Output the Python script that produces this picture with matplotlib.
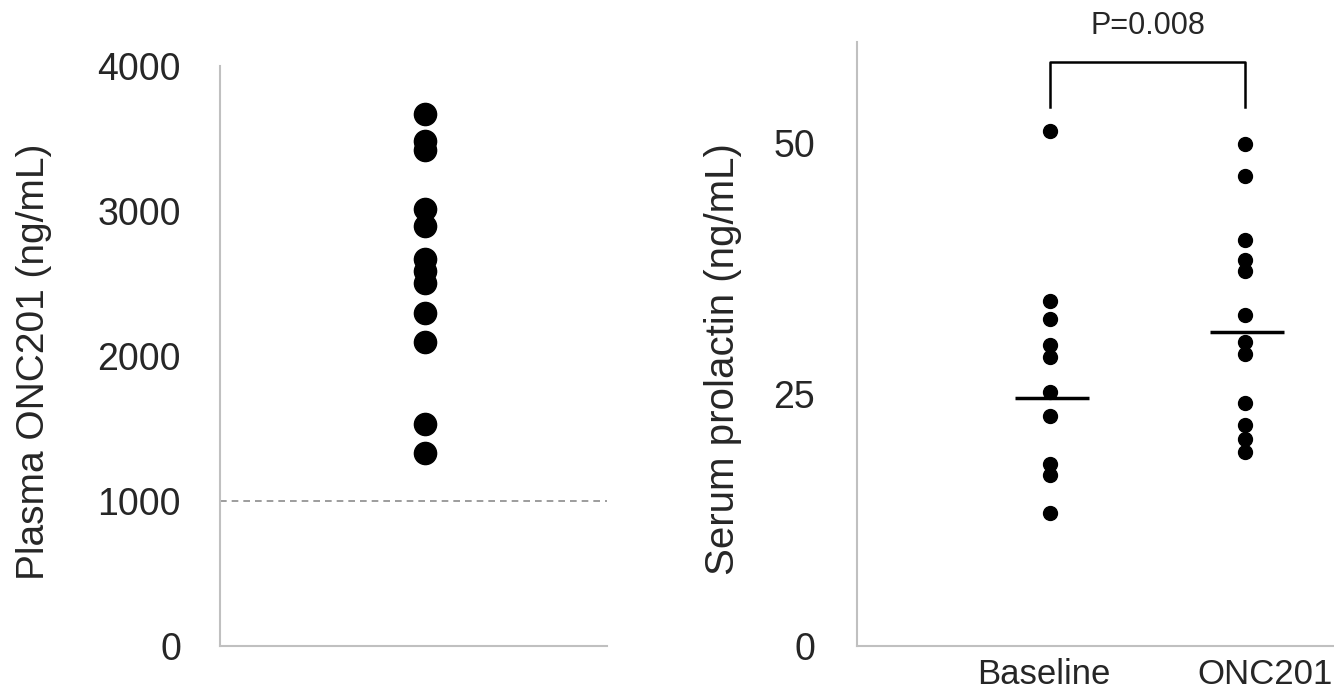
import matplotlib
matplotlib.use("Agg")
import matplotlib.pyplot as plt
import numpy as np

plt.rcParams['font.family'] = ['Liberation Sans', 'DejaVu Sans']

# ---- data ----
plasma_onc201 = [3670, 3485, 3420, 3015, 2900, 2670, 2585, 2505, 2300, 2095, 1530, 1330]
plasma_threshold = 1000

groups = ["Baseline", "ONC201"]
baseline_prolactin = [51.2, 34.3, 32.5, 29.9, 28.7, 25.2, 22.8, 18.1, 17.0, 13.2]
onc201_prolactin = [49.9, 46.7, 40.3, 38.3, 37.3, 32.9, 30.2, 29.0, 24.1, 22.0, 20.6, 19.3]
group_medians = [24.6, 31.2]
p_text = "P=0.008"

left_yticks = [0, 1000, 2000, 3000, 4000]
right_yticks = [0, 25, 50]

W, H = 1334, 691
fig = plt.figure(figsize=(W / 100, H / 100), dpi=100)

spine_col = "#c0c0c0"
txt_col = "#262626"

# ---- left panel ----
axL = fig.add_axes([220 / W, (H - 646) / H, (607 - 220) / W, (646 - 66) / H])
axL.set_xlim(0, 1)
axL.set_ylim(0, 4000)
axL.plot([0.53] * len(plasma_onc201), plasma_onc201, 'o', color='black',
         markersize=16, clip_on=False, zorder=3)
axL.axhline(plasma_threshold, color='#8c8c8c', linestyle=(0, (4, 3)), linewidth=1.2, zorder=1)
axL.set_yticks(left_yticks)
axL.set_yticklabels([str(t) for t in left_yticks], fontsize=27, color=txt_col)
axL.set_xticks([])
axL.tick_params(axis='y', length=0, pad=28)
axL.set_ylabel("Plasma ONC201 (ng/mL)", fontsize=28, color=txt_col)
axL.yaxis.set_label_coords(-0.434, 0.49)
for s in ['top', 'right']:
    axL.spines[s].set_visible(False)
for s in ['left', 'bottom']:
    axL.spines[s].set_color(spine_col)
    axL.spines[s].set_linewidth(1.5)

# ---- right panel ----
axR = fig.add_axes([857 / W, (H - 646) / H, (W - 857) / W, (646 - 42) / H])
xpos = np.arange(len(groups))
axR.set_xlim(-0.99, 1.456)
axR.set_ylim(0, 60)
for i, vals in enumerate([baseline_prolactin, onc201_prolactin]):
    axR.plot([xpos[i]] * len(vals), vals, 'o', color='black', markersize=10,
             clip_on=False, zorder=3)
    axR.plot([xpos[i] - 0.18, xpos[i] + 0.2], [group_medians[i]] * 2, color='black',
             linewidth=2.5, solid_capstyle='butt', zorder=4)

axR.set_yticks(right_yticks)
axR.set_yticklabels([str(t) for t in right_yticks], fontsize=27, color=txt_col)
axR.set_xticks([xpos[0] - 0.03, xpos[1] + 0.1])
axR.set_xticklabels(groups, fontsize=25, color=txt_col)
axR.tick_params(axis='y', length=0, pad=30)
axR.tick_params(axis='x', length=0, pad=9)
axR.set_ylabel("Serum prolactin (ng/mL)", fontsize=29, color=txt_col)
axR.yaxis.set_label_coords(-0.241, 0.475)
for s in ['top', 'right']:
    axR.spines[s].set_visible(False)
for s in ['left', 'bottom']:
    axR.spines[s].set_color(spine_col)
    axR.spines[s].set_linewidth(1.5)

# significance bracket
yb0, yb1 = 53.5, 58.0
axR.plot([xpos[0], xpos[0], xpos[1], xpos[1]], [yb0, yb1, yb1, yb0],
         color='black', linewidth=1.8, clip_on=False)
axR.text((xpos[0] + xpos[1]) / 2, 61.6, p_text, ha='center', va='center',
         fontsize=22, color=txt_col, clip_on=False)

fig.savefig("out.png", dpi=100)
